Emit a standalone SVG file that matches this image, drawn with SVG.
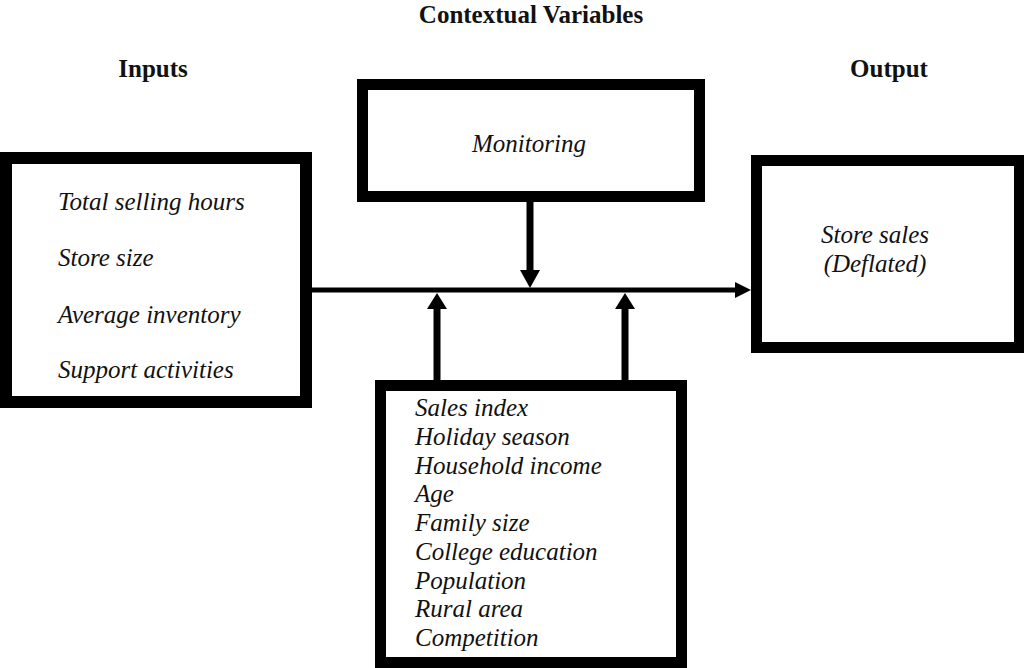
<svg xmlns="http://www.w3.org/2000/svg" width="1024" height="668" viewBox="0 0 1024 668">
<style>
.box{fill:#fff;stroke:#000;stroke-width:11}
.t{font-family:"Liberation Serif","Times New Roman",serif;font-style:italic;font-size:25px;fill:#111}
.h{font-family:"Liberation Serif","Times New Roman",serif;font-weight:bold;font-size:25px;fill:#111;text-anchor:middle}
.c{fill:none;stroke:#000}
.ah{fill:#000}
</style>
<rect width="1024" height="668" fill="#fff"/>
<g id="headers">
<text class="h" x="531" y="23">Contextual Variables</text>
<text class="h" x="153" y="77">Inputs</text>
<text class="h" x="889" y="77">Output</text>
</g>
<g id="inputs">
<rect class="box" x="6" y="158" width="300" height="244" style="stroke-width:12"/>
<text class="t" x="58" y="210">Total selling hours</text>
<text class="t" x="58" y="266">Store size</text>
<text class="t" x="58" y="323">Average inventory</text>
<text class="t" x="58" y="378">Support activities</text>
</g>
<g id="monitoring">
<rect class="box" x="362.5" y="84.5" width="337" height="112"/>
<text class="t" x="529" y="152" text-anchor="middle">Monitoring</text>
</g>
<g id="output">
<rect class="box" x="756.5" y="160.5" width="263" height="187"/>
<text class="t" x="875" y="243" text-anchor="middle">Store sales</text>
<text class="t" x="875" y="272" text-anchor="middle">(Deflated)</text>
</g>
<g id="contextual">
<rect class="box" x="380.5" y="385.5" width="301" height="277"/>
<text class="t" x="415" y="416">Sales index</text>
<text class="t" x="415" y="444.75">Holiday season</text>
<text class="t" x="415" y="473.5">Household income</text>
<text class="t" x="415" y="502.25">Age</text>
<text class="t" x="415" y="531">Family size</text>
<text class="t" x="415" y="559.75">College education</text>
<text class="t" x="415" y="588.5">Population</text>
<text class="t" x="415" y="617.25">Rural area</text>
<text class="t" x="415" y="646">Competition</text>
</g>
<g id="connectors">
<line class="c" x1="312" y1="290" x2="738" y2="290" stroke-width="5"/>
<polygon class="ah" points="735,282 751,290 735,298"/>
<line class="c" x1="530" y1="202" x2="530" y2="272" stroke-width="7"/>
<polygon class="ah" points="520,270 540,270 530,288"/>
<line class="c" x1="437" y1="380" x2="437" y2="306" stroke-width="7"/>
<polygon class="ah" points="427,309 447,309 437,293"/>
<line class="c" x1="625" y1="380" x2="625" y2="306" stroke-width="7"/>
<polygon class="ah" points="615,309 635,309 625,293"/>
</g>
</svg>
